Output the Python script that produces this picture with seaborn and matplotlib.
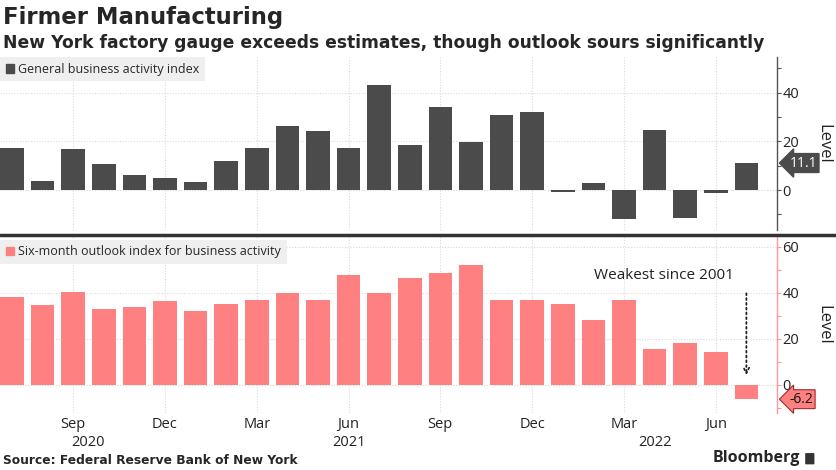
import matplotlib
matplotlib.use("Agg")
import matplotlib.pyplot as plt
import matplotlib.transforms as mtransforms
from matplotlib.patches import Patch, FancyBboxPatch
from matplotlib.lines import Line2D
from matplotlib.ticker import MultipleLocator
import seaborn as sns
import pandas as pd

months = ["2020-07", "2020-08", "2020-09", "2020-10", "2020-11", "2020-12",
          "2021-01", "2021-02", "2021-03", "2021-04", "2021-05", "2021-06",
          "2021-07", "2021-08", "2021-09", "2021-10", "2021-11", "2021-12",
          "2022-01", "2022-02", "2022-03", "2022-04", "2022-05", "2022-06",
          "2022-07"]
general = [17.2, 3.7, 17.0, 10.5, 6.3, 4.9, 3.5, 12.1, 17.4, 26.3, 24.3, 17.4,
           43.0, 18.3, 34.3, 19.8, 30.9, 31.9, -0.7, 3.1, -11.8, 24.6, -11.6,
           -1.2, 11.1]
outlook = [38.4, 34.6, 40.4, 33.0, 34.0, 36.5, 32.3, 35.3, 36.8, 40.0, 36.8,
           48.0, 39.8, 46.7, 48.7, 52.3, 37.1, 36.8, 35.3, 28.3, 36.8, 15.6,
           18.2, 14.2, -6.2]
tick_months = ["2020-09", "2020-12", "2021-03", "2021-06", "2021-09",
               "2021-12", "2022-03", "2022-06"]
year_labels = {"2020": 2.5, "2021": 11.0, "2022": 21.0}

DARK = "#4b4b4b"
PINK = "#ff8080"
GRID = "#d9d9d9"

sns.set_style("white")
plt.rcParams["font.family"] = ["Open Sans", "DejaVu Sans"]

df = pd.DataFrame({"month": months, "general": general, "outlook": outlook})
tick_idx = [months.index(m) for m in tick_months]
tick_lbl = [pd.Timestamp(m).strftime("%b") for m in tick_months]

fig = plt.figure(figsize=(8.37, 4.70), dpi=100)
ax1 = fig.add_axes([0, 0.5106, 0.9283, 0.368])
ax2 = fig.add_axes([0, 0.1213, 0.9283, 0.3744])

sns.barplot(data=df, x="month", y="general", color=DARK, width=0.77,
            saturation=1, ax=ax1, linewidth=0)
sns.barplot(data=df, x="month", y="outlook", color=PINK, width=0.77,
            saturation=1, ax=ax2, linewidth=0)

ax1.set_ylim(-16.4, 54.6)
ax2.set_ylim(-12.2, 64.3)

for ax, spine_col, majors in [(ax1, "#555555", [0, 20, 40]),
                              (ax2, "#ff9999", [0, 20, 40, 60])]:
    ax.set_xlim(-0.39, 25.0)
    ax.set_axisbelow(True)
    for s in ["left", "top", "bottom"]:
        ax.spines[s].set_visible(False)
    ax.spines["right"].set_color(spine_col)
    ax.spines["right"].set_linewidth(1.0)
    ax.yaxis.tick_right()
    ax.yaxis.set_label_position("right")
    ax.set_yticks(majors)
    ax.yaxis.set_minor_locator(MultipleLocator(10))
    ax.tick_params(axis="y", which="both", length=3, width=0.8,
                   color=spine_col, pad=1, labelsize=10.5, labelcolor="#222222")
    ax.set_xticks(tick_idx)
    ax.tick_params(axis="x", length=0, pad=3, labelsize=10.5,
                   labelcolor="#222222")
    ax.grid(axis="y", which="major", ls=(0, (1, 1.5)), color=GRID, lw=0.8)
    ax.grid(axis="x", ls=(0, (1, 1.5)), color=GRID, lw=0.8)
    ax.set_xlabel("")
    ax.set_ylabel("Level", rotation=270, fontsize=12, color="#222222")
    ax.yaxis.set_label_coords(1.07, 0.5)

ax1.set_xticklabels([""] * len(tick_idx))
ax2.set_xticklabels(tick_lbl)

# year labels under the month ticks
tr = mtransforms.blended_transform_factory(ax2.transData, ax2.transAxes)
for yr, pos in year_labels.items():
    ax2.text(pos, -0.17, yr, transform=tr, ha="center", va="center",
             fontsize=10.5, color="#222222")

# legends
leg1 = ax1.legend(handles=[Patch(color=DARK, label="General business activity index")],
                  loc="upper left", bbox_to_anchor=(0, 1), borderaxespad=0,
                  frameon=True, fancybox=False, fontsize=9,
                  handlelength=0.7, handleheight=0.7, handletextpad=0.3,
                  borderpad=0.45)
leg2 = ax2.legend(handles=[Patch(color=PINK, label="Six-month outlook index for business activity")],
                  loc="upper left", bbox_to_anchor=(0, 0.985), borderaxespad=0,
                  frameon=True, fancybox=False, fontsize=9,
                  handlelength=0.7, handleheight=0.7, handletextpad=0.3,
                  borderpad=0.45)
for leg in (leg1, leg2):
    leg.get_frame().set_facecolor("#efefef")
    leg.get_frame().set_edgecolor("none")
    leg.get_frame().set_alpha(1)

# last value tags
tr1 = mtransforms.blended_transform_factory(ax1.transAxes, ax1.transData)
tr2 = mtransforms.blended_transform_factory(ax2.transAxes, ax2.transData)
ax1.text(1.016, general[-1], f"{general[-1]:.1f}", transform=tr1, ha="left",
         va="center", fontsize=10, color="white", clip_on=False,
         bbox=dict(boxstyle="larrow,pad=0.14", fc=DARK, ec=DARK))
ax2.text(1.016, outlook[-1], f"{outlook[-1]:.1f}", transform=tr2, ha="left",
         va="center", fontsize=10, color="#111111", clip_on=False,
         bbox=dict(boxstyle="larrow,pad=0.14", fc=PINK, ec="#9a2b2b", lw=0.8))

# annotation
last = len(months) - 1
ax2.annotate("", xy=(last, 3), xytext=(last, 41),
             arrowprops=dict(arrowstyle="->", ls=":", color="#222222", lw=1.3))
ax2.text(21.3, 47.4, "Weakest since 2001", ha="center", va="center",
         fontsize=11, color="#222222")

# titles and separator
fig.text(0.004, 0.962, "Firmer Manufacturing", fontsize=16.4, fontweight="bold",
         family="DejaVu Sans", va="center")
fig.text(0.004, 0.909, "New York factory gauge exceeds estimates, though outlook sours significantly",
         fontsize=12.3, fontweight="bold", family="DejaVu Sans", va="center")
fig.add_artist(Line2D([0, 1], [1 - 235 / 470] * 2, color="#333333", lw=2.5,
                      transform=fig.transFigure))
fig.text(0.004, 0.021, "Source: Federal Reserve Bank of New York", fontsize=8.8,
         fontweight="bold", family="DejaVu Sans", va="center")
fig.text(0.956, 0.025, "Bloomberg", fontsize=11.5, fontweight="bold",
         ha="right", va="center")
fig.add_artist(FancyBboxPatch((0.963, 0.013), 0.009, 0.022,
                              boxstyle="round,pad=0.001", fc="#333333",
                              ec="none", transform=fig.transFigure))

fig.savefig("out.png", dpi=100)
